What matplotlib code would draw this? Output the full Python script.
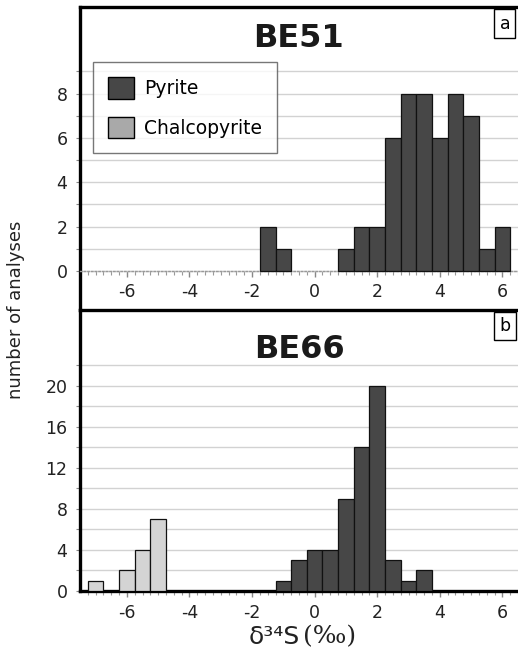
import matplotlib.pyplot as plt
from matplotlib.patches import Patch

plt.rcParams["axes.unicode_minus"] = False

# BE51 (panel a) - pyrite only
be51_centers = [-1.5, -1, 1, 1.5, 2, 2.5, 3, 3.5, 4, 4.5, 5, 5.5, 6]
be51_pyrite = [2, 1, 1, 2, 2, 6, 8, 8, 6, 8, 7, 1, 2]

# BE66 (panel b)
be66_py_centers = [-1, -0.5, 0, 0.5, 1, 1.5, 2, 2.5, 3, 3.5]
be66_pyrite = [1, 3, 4, 4, 9, 14, 20, 3, 1, 2]
be66_cp_centers = [-7, -6, -5.5, -5]
be66_chalco = [1, 2, 4, 7]

bin_width = 0.5
py_color = "#474747"
cp_color = "#d4d4d4"
grid_color = "#d2d2d2"

fig = plt.figure(figsize=(5.18, 6.55), dpi=100, facecolor="white")
axA = fig.add_axes([80/518, 1-310/655, 1-80/518, 303/655])
axB = fig.add_axes([80/518, 1-591/655, 1-80/518, 281/655])

for ax in (axA, axB):
    ax.set_xlim(-7.5, 6.5)
    ax.set_xticks([-6, -4, -2, 0, 2, 4, 6])
    ax.set_xticks([x/4 for x in range(-29, 27)], minor=True)
    ax.tick_params(axis="both", labelsize=12.5, colors="#222222")
    ax.tick_params(axis="x", which="major", length=4, width=1, color="#888888", pad=5)
    ax.tick_params(axis="x", which="minor", length=3, width=0.8, color="#999999")
    ax.tick_params(axis="y", which="both", length=3, width=0.8, color="#888888", pad=6)
    ax.spines["right"].set_visible(False)
    ax.spines["left"].set_linewidth(2.4)
    ax.spines["top"].set_linewidth(2.4)
    ax.set_axisbelow(True)
    ax.grid(True, axis="y", which="both", color=grid_color, linewidth=1)

# panel a
axA.bar(be51_centers, be51_pyrite, width=bin_width, color=py_color,
        edgecolor="#111111", linewidth=0.9, zorder=3)
axA.set_ylim(-1.76, 11.9)
axA.set_yticks([0, 2, 4, 6, 8])
axA.set_yticks([1, 3, 5, 7, 9], minor=True)
axA.spines["bottom"].set_position(("data", 0))
axA.spines["bottom"].set_color("#999999")
axA.spines["bottom"].set_linestyle(":")
axA.spines["bottom"].set_linewidth(1)
axA.text(0.5, 0.895, "BE51", transform=axA.transAxes, ha="center", va="center",
         fontsize=23, fontweight="bold", color="#1a1a1a")
axA.text(0.958, 0.975, "a", transform=axA.transAxes, ha="left", va="top", fontsize=12.5,
         bbox=dict(boxstyle="square,pad=0.3", facecolor="white", edgecolor="black", linewidth=1))
handles = [Patch(facecolor=py_color, edgecolor="black", label="Pyrite"),
           Patch(facecolor="#a9a9a9", edgecolor="black", label="Chalcopyrite")]
axA.legend(handles=handles, loc="upper left", bbox_to_anchor=(0.03, 0.818), fontsize=13.5,
           frameon=True, fancybox=False, edgecolor="#555555", handlelength=1.4,
           handleheight=1.4, borderpad=0.8, labelspacing=0.95, handletextpad=0.5,
           borderaxespad=0)

# panel b
axB.bar(be66_py_centers, be66_pyrite, width=bin_width, color=py_color,
        edgecolor="#111111", linewidth=0.9, zorder=3)
axB.bar(be66_cp_centers, be66_chalco, width=bin_width, color=cp_color,
        edgecolor="#111111", linewidth=0.9, zorder=3)
axB.set_ylim(0, 27.4)
axB.set_yticks([0, 4, 8, 12, 16, 20])
axB.set_yticks([2, 6, 10, 14, 18, 22], minor=True)
axB.spines["bottom"].set_linewidth(2.4)
axB.text(0.5, 0.86, "BE66", transform=axB.transAxes, ha="center", va="center",
         fontsize=23, fontweight="bold", color="#1a1a1a")
axB.text(0.958, 0.975, "b", transform=axB.transAxes, ha="left", va="top", fontsize=12.5,
         bbox=dict(boxstyle="square,pad=0.3", facecolor="white", edgecolor="black", linewidth=1))

# x label: delta and S in sans, the (permil) part in serif like the original
fig.text(300/518, 1-637/655, "δ³⁴S", ha="right", va="center", fontsize=18, color="#222222")
fig.text(303/518, 1-637/655, "(‰)", ha="left", va="center", fontsize=18, color="#222222",
         family="DejaVu Serif")

fig.text(16/518, 1-310/655, "number of analyses", rotation=90, ha="center", va="center",
         fontsize=13, color="#222222")

fig.savefig("out.png", dpi=100, facecolor="white")
